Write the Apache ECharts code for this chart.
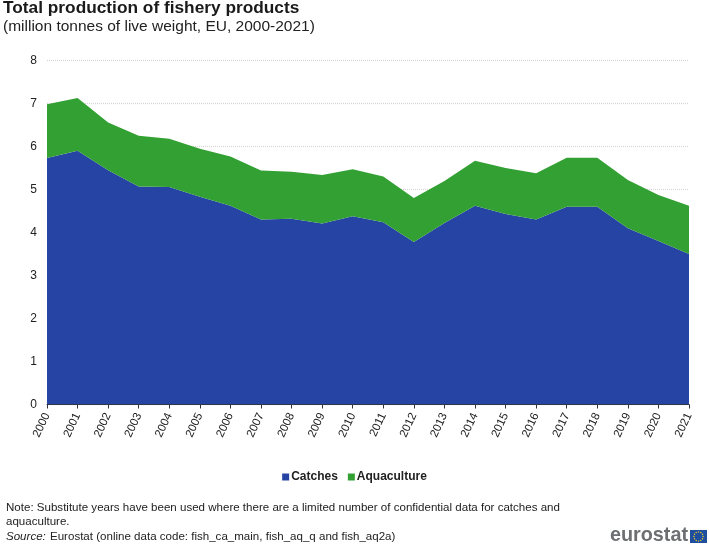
<!DOCTYPE html>
<html><head><meta charset="utf-8">
<style>html,body{margin:0;padding:0;background:#fff}#c{width:709px;height:547px}</style>
<script src="https://cdn.jsdelivr.net/npm/echarts@6/dist/echarts.min.js"></script>
</head><body><div id="c"></div>
<script>
const years = ['2000','2001','2002','2003','2004','2005','2006','2007','2008','2009','2010','2011','2012','2013','2014','2015','2016','2017','2018','2019','2020','2021'];
const catches = [5.73,5.90,5.45,5.07,5.06,4.83,4.62,4.30,4.32,4.21,4.38,4.24,3.78,4.22,4.62,4.43,4.30,4.60,4.60,4.10,3.80,3.50];
const aquaculture = [1.25,1.23,1.11,1.18,1.12,1.12,1.15,1.14,1.09,1.13,1.09,1.06,1.02,0.98,1.05,1.07,1.08,1.14,1.14,1.12,1.07,1.12];
const font = '"Liberation Sans", Arial, sans-serif';
const chart = echarts.init(document.getElementById('c'), null, {renderer:'canvas'});
const stars = [];
for (let i = 0; i < 12; i++) {
  const a = i * Math.PI / 6;
  stars.push({type:'circle', shape:{cx:698.5 + 4.6*Math.cos(a), cy:536.5 + 4.6*Math.sin(a), r:0.7}, style:{fill:'#f5d020'}});
}
chart.setOption({
  animation:false,
  backgroundColor:'#fff',
  textStyle:{fontFamily:font},
  grid:{left:47,right:20,top:60.5,bottom:142.5,containLabel:false},
  legend:{bottom:59,left:'center',itemWidth:7,itemHeight:7,itemGap:10,icon:'rect',
    textStyle:{fontFamily:font,fontSize:12,fontWeight:'bold',color:'#222',padding:[0,0,0,-3]},
    data:['Catches','Aquaculture']},
  xAxis:{type:'category',boundaryGap:false,data:years,
    axisLine:{lineStyle:{color:'#333',width:1}},
    axisTick:{show:true,length:4,lineStyle:{color:'#333'}},
    axisLabel:{rotate:65,interval:0,fontSize:11.5,color:'#222',fontFamily:font,margin:9}},
  yAxis:{type:'value',min:0,max:8,interval:1,
    axisLine:{show:false},axisTick:{show:false},
    axisLabel:{fontSize:12,color:'#222',fontFamily:font,margin:10},
    splitLine:{lineStyle:{color:'#d6d6d6',width:1.3,type:[1,1]}}},
  series:[
    {name:'Catches',type:'line',stack:'t',data:catches,symbol:'none',lineStyle:{width:0},
     itemStyle:{color:'#2644a3'},areaStyle:{color:'#2644a3',opacity:1}},
    {name:'Aquaculture',type:'line',stack:'t',data:aquaculture,symbol:'none',lineStyle:{width:0},
     itemStyle:{color:'#33a033'},areaStyle:{color:'#33a033',opacity:1}}
  ],
  graphic:[
    {type:'text',left:3,top:0,style:{text:'Total production of fishery products',font:'bold 17.3px '+font,fill:'#1a1a1a'}},
    {type:'text',left:3,top:19,style:{text:'(million tonnes of live weight, EU, 2000-2021)',font:'15.5px '+font,fill:'#222'}},
    {type:'text',left:6,top:502,style:{text:'Note: Substitute years have been used where there are a limited number of confidential data for catches and',font:'11.55px '+font,fill:'#222'}},
    {type:'text',left:6,top:516,style:{text:'aquaculture.',font:'11.55px '+font,fill:'#222'}},
    {type:'text',left:6,top:531,style:{text:'Source:',font:'italic 11.55px '+font,fill:'#222'}},
    {type:'text',left:50,top:531,style:{text:'Eurostat (online data code: fish_ca_main, fish_aq_q and fish_aq2a)',font:'11.55px '+font,fill:'#222'}},
    {type:'text',left:610,top:526,style:{text:'eurostat',font:'bold 19.8px '+font,fill:'#6d6f72'}},
    {type:'rect',shape:{x:690,y:530,width:17,height:13},style:{fill:'#1f4e9e'}},
    ...stars
  ]
});
</script></body></html>
